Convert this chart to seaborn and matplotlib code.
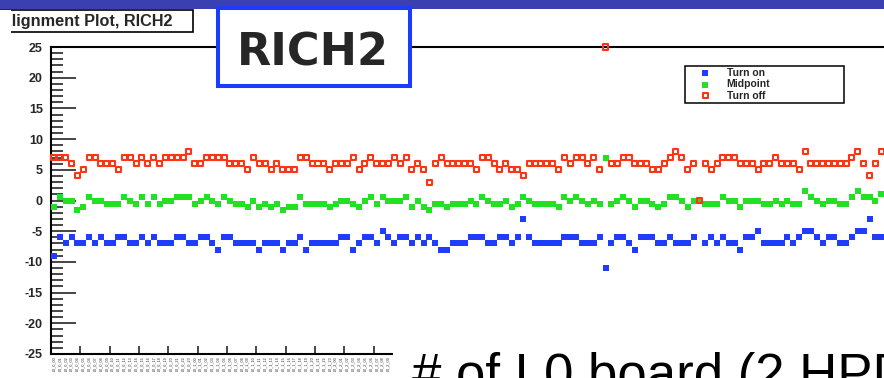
import numpy as np
import pandas as pd
import matplotlib
matplotlib.use("Agg")
import matplotlib.pyplot as plt
from matplotlib.patches import Rectangle
from matplotlib.ticker import MultipleLocator
import seaborn as sns

# Threshold scan results per L0 board (bin index 0..141)
TURN_ON = [
    -9, -6, -7, -6, -7, -7, -6, -7, -6, -7,
    -7, -6, -6, -7, -7, -6, -7, -6, -7, -7,
    -7, -6, -6, -7, -7, -6, -6, -7, -8, -6,
    -6, -7, -7, -7, -7, -8, -7, -7, -7, -8,
    -7, -7, -6, -8, -7, -7, -7, -7, -7, -6,
    -6, -8, -7, -6, -6, -7, -5, -6, -7, -6,
    -6, -7, -6, -7, -6, -7, -8, -8, -7, -7,
    -7, -6, -6, -6, -7, -7, -6, -6, -7, -6,
    -3, -6, -7, -7, -7, -7, -7, -6, -6, -6,
    -7, -7, -7, -6, -11, -7, -6, -6, -7, -8,
    -6, -6, -6, -7, -7, -6, -7, -7, -7, -6,
    0, -7, -6, -7, -6, -7, -7, -8, -6, -6,
    -5, -7, -7, -7, -7, -6, -7, -6, -5, -5,
    -6, -7, -6, -6, -7, -7, -6, -5, -5, -3,
    -6, -6,
]
MIDPOINT = [
    -1, 0.5, 0, 0, -1.5, -1, 0.5, 0, 0, -0.5,
    -0.5, -0.5, 0.5, 0, -0.5, 0.5, -0.5, 0.5, -0.5, 0,
    0, 0.5, 0.5, 0.5, -0.5, 0, 0.5, 0, -0.5, 0.5,
    0, -0.5, -0.5, -1, 0, -1, -0.5, -1, -0.5, -1.5,
    -1, -1, 0.5, -0.5, -0.5, -0.5, -0.5, -1, -0.5, 0,
    0, -0.5, -1, 0, 0.5, -0.5, 0.5, 0, 0, 0,
    0.5, -1, 0, -1, -1.5, -0.5, -0.5, -1, -0.5, -0.5,
    -0.5, 0, -0.5, 0.5, 0, -0.5, -0.5, 0, -1, -0.5,
    0.5, 0, -0.5, -0.5, -0.5, -0.5, -1, 0.5, 0, 0.5,
    0, -0.5, 0, -0.5, 7, -0.5, 0, 0.5, 0, -1,
    0, 0, -0.5, -1, -0.5, 0.5, 0.5, 0, -1, 0,
    0, -0.5, -0.5, -0.5, 0.5, 0, 0, -1, 0, 0,
    0, -0.5, -0.5, 0, -0.5, 0, -0.5, -0.5, 1.5, 0.5,
    0, -0.5, 0, 0, -0.5, -0.5, 0.5, 1.5, 0.5, 0.5,
    0, 1,
]
TURN_OFF = [
    7, 7, 7, 6, 4, 5, 7, 7, 6, 6,
    6, 5, 7, 7, 6, 7, 6, 7, 6, 7,
    7, 7, 7, 8, 6, 6, 7, 7, 7, 7,
    6, 6, 6, 5, 7, 6, 6, 5, 6, 5,
    5, 5, 7, 7, 6, 6, 6, 5, 6, 6,
    6, 7, 5, 6, 7, 6, 6, 6, 7, 6,
    7, 5, 6, 5, 3, 6, 7, 6, 6, 6,
    6, 6, 5, 7, 7, 6, 5, 6, 5, 5,
    4, 6, 6, 6, 6, 6, 5, 7, 6, 7,
    7, 6, 7, 5, 25, 6, 6, 7, 7, 6,
    6, 6, 5, 5, 6, 7, 8, 7, 5, 6,
    0, 6, 5, 6, 7, 7, 7, 6, 6, 6,
    5, 6, 6, 7, 6, 6, 6, 5, 8, 6,
    6, 6, 6, 6, 6, 6, 7, 8, 6, 4,
    6, 8,
]
# Board names printed under the axis (only the left part of the axis is
# left uncovered by the annotation box)
BOARD_LABELS = [f"L0_{k // 24}_{k % 24:02d}" for k in range(58)]
SERIES = ["Turn on", "Midpoint", "Turn off"]
Y_TICKS = [-25, -20, -15, -10, -5, 0, 5, 10, 15, 20, 25]
N_BOARDS = 144

TITLE = "Alignment Plot, RICH2"
BADGE = "RICH2"
AXIS_NOTE = "# of L0 board (2 HPDs)"

BLUE = "#1f3cff"
GREEN = "#22e022"
RED = "#ff3414"
BAR = "#3b40b0"
BADGE_EDGE = "#1a3cff"

W, H, DPI = 884, 378, 100

sns.set_style("white")
plt.rcParams["font.family"] = ["Liberation Sans", "DejaVu Sans"]
plt.rcParams["axes.unicode_minus"] = False


def fx(px):
    return px / W


def fy(py):
    # py measured downward from the top edge
    return 1 - py / H


fig = plt.figure(figsize=(W / DPI, H / DPI), dpi=DPI)
fig.patch.set_facecolor("white")

ax = fig.add_axes([fx(51), fy(354), fx(896) - fx(51), (354 - 47) / H])

df = pd.DataFrame({
    "board": np.arange(len(TURN_ON)) + 0.5,
    SERIES[0]: TURN_ON,
    SERIES[1]: MIDPOINT,
    SERIES[2]: TURN_OFF,
})

sns.scatterplot(data=df, x="board", y=SERIES[0], marker="s", s=16,
                color=BLUE, edgecolor=BLUE, linewidth=0, label=SERIES[0],
                ax=ax, clip_on=False, zorder=3)
sns.scatterplot(data=df, x="board", y=SERIES[1], marker="s", s=16,
                color=GREEN, edgecolor=GREEN, linewidth=0, label=SERIES[1],
                ax=ax, clip_on=False, zorder=4)
sns.scatterplot(data=df, x="board", y=SERIES[2], marker="s", s=13,
                color=RED, edgecolor=RED, linewidth=1.5, label=SERIES[2],
                ax=ax, clip_on=False, zorder=5)
ax.collections[-1].set_facecolor("none")

ax.set_xlim(0, N_BOARDS)
ax.set_ylim(Y_TICKS[0], Y_TICKS[-1])
ax.set_xlabel("")
ax.set_ylabel("")

# y axis: ROOT-style inward ticks with bold labels
ax.set_yticks(Y_TICKS)
ax.yaxis.set_minor_locator(MultipleLocator(1))
ax.tick_params(axis="y", which="major", direction="in", length=18,
               width=1.2, pad=5.8, labelsize=9, left=True)
ax.tick_params(axis="y", which="minor", direction="in", length=8.6,
               width=1.2, left=True)
for lab in ax.get_yticklabels():
    lab.set_fontweight("bold")

# x axis: major ticks every 5 boards, one tiny label per board
ax.set_xticks(np.arange(5, N_BOARDS, 5))
ax.set_xticks(df["board"][:len(BOARD_LABELS)], minor=True)
ax.set_xticklabels(BOARD_LABELS, minor=True, rotation=90, fontsize=2.7,
                   va="top")
ax.tick_params(axis="x", which="major", direction="in", length=6,
               width=1.2, labelbottom=False, bottom=True)
ax.tick_params(axis="x", which="minor", length=0, pad=1.5, bottom=True)

for side in ["left", "top", "bottom", "right"]:
    ax.spines[side].set_visible(True)
    ax.spines[side].set_color("black")
    ax.spines[side].set_linewidth(1.5)

leg = ax.legend(loc="upper left",
                bbox_to_anchor=(fx(685), fy(105), fx(844) - fx(685),
                                (105 - 66) / H),
                bbox_transform=fig.transFigure, mode="expand",
                borderaxespad=0, frameon=True, fancybox=False,
                edgecolor="black", framealpha=1,
                prop={"weight": "bold", "size": 7.5}, scatterpoints=1,
                handlelength=3.5, handletextpad=0.3, borderpad=0.2,
                labelspacing=0.12)
leg.get_frame().set_linewidth(1.1)

# Slide decorations around the canvas
fig.add_artist(Rectangle((0, fy(8.7)), 1, 8.7 / H, transform=fig.transFigure,
                         facecolor=BAR, edgecolor="none", zorder=10))

fig.add_artist(Rectangle((fx(-20), fy(32)), fx(213), 22 / H,
                         transform=fig.transFigure, facecolor="white",
                         edgecolor="black", linewidth=1.2, zorder=10))
fig.text(fx(-0.5), fy(26), TITLE, fontsize=11.7, fontweight="bold",
         va="baseline", ha="left", zorder=11)
fig.add_artist(Rectangle((0, fy(34)), fx(10.5), 24.5 / H,
                         transform=fig.transFigure, facecolor="white",
                         edgecolor="none", zorder=12))

fig.add_artist(Rectangle((fx(218), fy(86)), fx(192), 78 / H,
                         transform=fig.transFigure, facecolor="white",
                         edgecolor=BADGE_EDGE, linewidth=2.9, zorder=13))
fig.text(fx(313), fy(65), BADGE, fontsize=32, fontweight="bold",
         family="DejaVu Sans", ha="center", va="baseline", zorder=14)

fig.add_artist(Rectangle((fx(393), 0), 1, (378 - 336) / H,
                         transform=fig.transFigure, facecolor="white",
                         edgecolor="none", zorder=15))
fig.text(fx(412), fy(391), AXIS_NOTE, fontsize=38, ha="left",
         va="baseline", color="black", zorder=16)

fig.savefig("out.png", dpi=DPI)
